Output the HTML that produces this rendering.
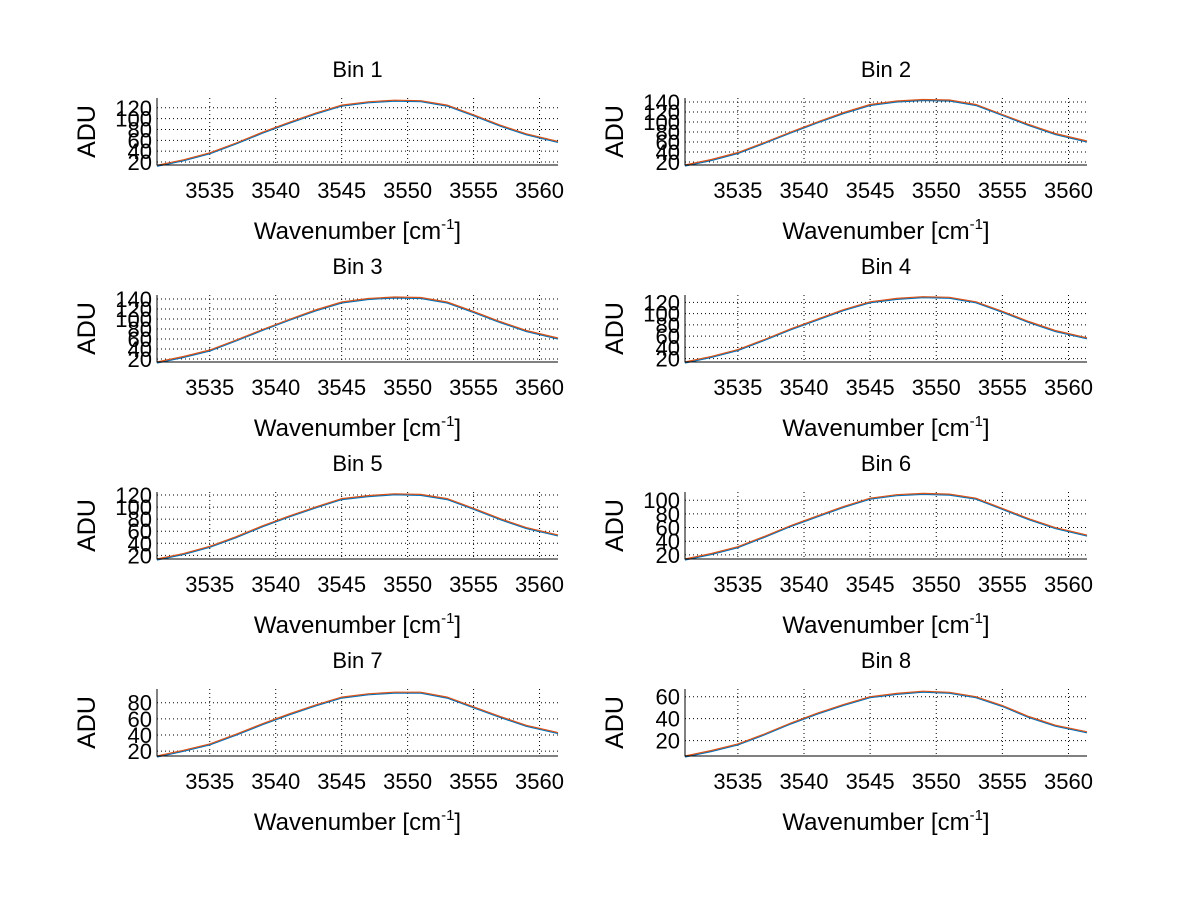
<!DOCTYPE html>
<html><head><meta charset="utf-8"><style>
body{margin:0;background:#fff}
svg text{font-family:"Liberation Sans",sans-serif;fill:#000}
</style></head><body>
<svg id="fig" width="1200" height="901" viewBox="0 0 1200 901"></svg>
<script>
const wav=[3531,3533,3535,3537,3539,3541,3543,3545,3547,3549,3551,3553,3555,3557,3559,3561.4];
const bin1=[14,24,37,55,75,93,110,125,131,134,133,125,107,88,72,58];
const bin2=[14,25,39,59,80,100,119,135,142,145,144,135,115,95,77,62];
const bin3=[14,25,38,58,79,99,118,134,141,144,143,134,115,95,77,62];
const bin4=[14,24,36,54,73,90,107,121,127,130,129,121,104,86,70,57];
const bin5=[14,23,35,51,69,85,100,114,119,122,121,114,98,81,66,54];
const bin6=[14,22,32,47,63,77,91,103,108,110,109,103,88,73,60,49];
const bin7=[14,21,29,41,54,66,77,87,91,93,93,87,75,63,52,43];
const bin8=[6,11,17,26,36,45,53,60,63,65,64,60,52,42,34,28];
const xTicks=[3535,3540,3545,3550,3555,3560];
const bins=[bin1,bin2,bin3,bin4,bin5,bin6,bin7,bin8];
const titles=["Bin 1","Bin 2","Bin 3","Bin 4","Bin 5","Bin 6","Bin 7","Bin 8"];
const yTicks=[[20,40,60,80,100,120],[20,40,60,80,100,120,140],[20,40,60,80,100,120,140],[20,40,60,80,100,120],[20,40,60,80,100,120],[20,40,60,80,100],[20,40,60,80],[20,40,60]];
const yMins=[14.5,14,14,14,14,14,14,6];
const yMaxs=[138,148,148,133,125,112,97,67];
const svg=document.getElementById('fig');
const NS='http://www.w3.org/2000/svg';
function mk(t,a,p){const e=document.createElementNS(NS,t);for(const k in a)e.setAttribute(k,a[k]);(p||svg).appendChild(e);return e;}
const xMin=3531,xMax=3561.4;
for(let i=0;i<8;i++){
  const col=i%2,row=Math.floor(i/2);
  const L=col?685:157,R=col?1087:558,T=98+row*197,B=165+row*197;
  const g=mk('g',{});
  
  
  const sx=v=>L+(v-xMin)/(xMax-xMin)*(R-L);
  const sy=v=>B-(v-yMins[i])/(yMaxs[i]-yMins[i])*(B-T);
  xTicks.forEach(t=>{
    const gl=mk('line',{x1:sx(t),x2:sx(t),y1:T,y2:B,stroke:'#000','stroke-width':1,'stroke-dasharray':'1,3'},g);
    
    
    const tx=mk('text',{x:sx(t),y:B+33,'font-size':22,'text-anchor':'middle'},g);tx.textContent=t;
    
    
  });
  yTicks[i].forEach(t=>{
    const gl=mk('line',{x1:L,x2:R,y1:sy(t),y2:sy(t),stroke:'#000','stroke-width':1,'stroke-dasharray':'1,3'},g);
    
    
    const tx=mk('text',{x:L-5,y:sy(t)+8,'font-size':22,'text-anchor':'end'},g);tx.textContent=t;
    
    
  });
  const d=bins[i];
  const pts=wav.map((w,j)=>sx(w).toFixed(1)+','+sy(d[j]).toFixed(1)).join(' ');
  const pts2=wav.map((w,j)=>sx(w).toFixed(1)+','+(sy(d[j])+1).toFixed(1)).join(' ');
  const l1=mk('polyline',{points:pts2,fill:'none',stroke:'#0072BD','stroke-width':1.2},g);
  
  
  const l2=mk('polyline',{points:pts,fill:'none',stroke:'#D95319','stroke-width':1.2},g);
  
  
  const ax=mk('path',{d:`M${L},${T}V${B}H${R}`,fill:'none',stroke:'#000','stroke-width':1},g);
  
  
  const ti=mk('text',{x:(L+R)/2,y:T-21,'font-size':22,'text-anchor':'middle'},g);ti.textContent=titles[i];
  
  
  const yl=mk('text',{x:0,y:0,'font-size':25,'text-anchor':'middle',transform:`translate(${L-62},${(T+B)/2}) rotate(-90)`},g);yl.textContent='ADU';
  
  
  const xl=mk('text',{x:(L+R)/2,y:B+74,'font-size':24,'text-anchor':'middle'},g);
  
  
  xl.appendChild(document.createTextNode('Wavenumber [cm'));
  const sup=mk('tspan',{dy:-10,'font-size':15},xl);sup.textContent='-1';
  const rest=mk('tspan',{dy:10},xl);rest.textContent=']';
}
</script>
</body></html>
